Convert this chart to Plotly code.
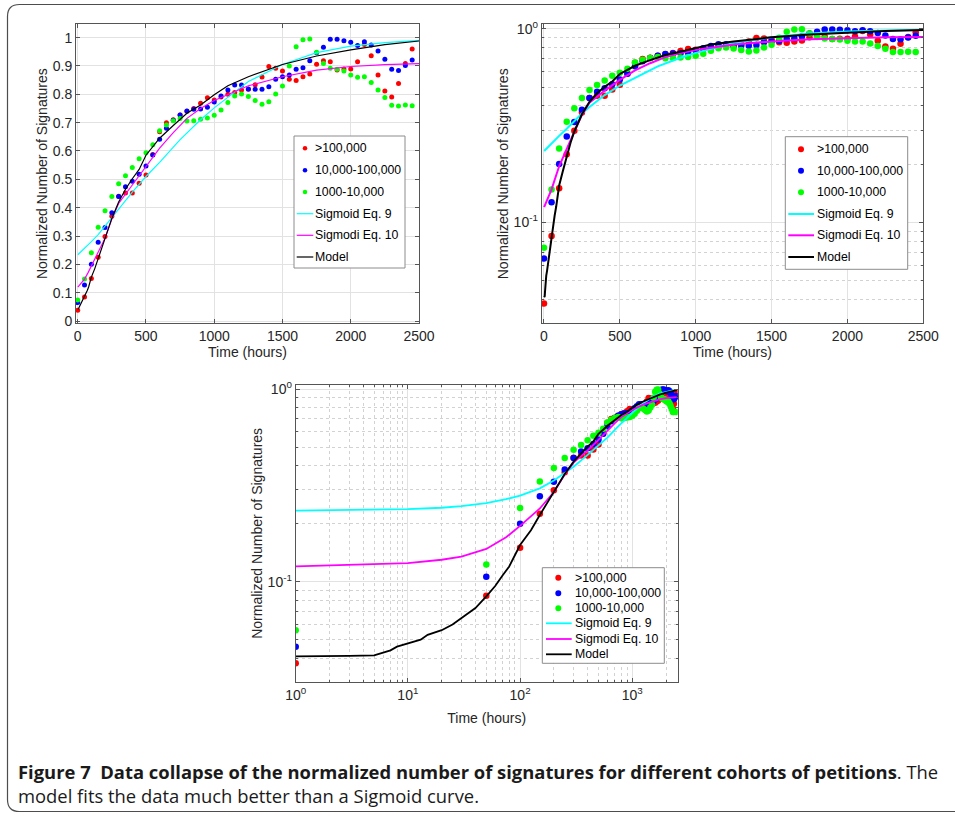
import plotly.graph_objects as go

W, H = 955, 816

# ---------------- data ----------------
hours = list(range(0, 2500, 50))  # 0, 50, ..., 2450

red = [0.038, 0.085, 0.150, 0.225, 0.298, 0.370, 0.440, 0.452, 0.452, 0.486,
       0.515, 0.588, 0.668, 0.700, 0.710, 0.727, 0.740, 0.750, 0.768, 0.788,
       0.780, 0.790, 0.800, 0.806, 0.815, 0.818, 0.834, 0.861, 0.898, 0.892,
       0.882, 0.853, 0.849, 0.862, 0.872, 0.906, 0.918, 0.915, 0.886, 0.889,
       0.889, 0.915, 0.976, 0.936, 0.868, 0.812, 0.790, 0.838, 0.909, 0.960]

blue = [0.065, 0.127, 0.200, 0.278, 0.330, 0.382, 0.439, 0.474, 0.493, 0.518,
        0.547, 0.586, 0.641, 0.680, 0.708, 0.727, 0.741, 0.747, 0.748, 0.754,
        0.773, 0.794, 0.815, 0.833, 0.833, 0.819, 0.818, 0.818, 0.827, 0.853,
        0.862, 0.868, 0.888, 0.894, 0.918, 0.947, 0.966, 0.994, 0.994, 0.989,
        0.984, 0.972, 0.985, 0.974, 0.953, 0.924, 0.888, 0.884, 0.902, 0.921]

green = [0.074, 0.148, 0.241, 0.331, 0.389, 0.439, 0.484, 0.513, 0.542, 0.573,
         0.594, 0.622, 0.671, 0.692, 0.707, 0.715, 0.706, 0.707, 0.712, 0.716,
         0.726, 0.745, 0.771, 0.794, 0.801, 0.792, 0.778, 0.765, 0.774, 0.801,
         0.829, 0.900, 0.968, 0.992, 0.995, 0.948, 0.909, 0.892, 0.888, 0.882,
         0.868, 0.860, 0.862, 0.842, 0.815, 0.789, 0.761, 0.759, 0.762, 0.760]

# first two points as drawn in the log-log panel (t = 1 h and t = 50 h)
red_loglog_start = [0.0377, 0.0846]
blue_loglog_start = [0.046, 0.106]
green_loglog_start = [0.056, 0.123]

model_hours = [1, 2, 3, 5, 7, 8, 10, 13, 15, 20, 25, 30, 35, 40, 50, 60, 70, 80,
               100, 125, 150, 175, 200, 250, 300, 350, 400, 450, 500, 550, 600,
               700, 800, 900, 1000, 1100, 1250, 1500, 1750, 2000, 2250, 2500]
model = [0.041, 0.041, 0.0412, 0.0415, 0.044, 0.046, 0.048, 0.050, 0.053, 0.056,
         0.060, 0.065, 0.069, 0.073, 0.084, 0.095, 0.108, 0.120, 0.155, 0.185,
         0.222, 0.258, 0.295, 0.362, 0.420, 0.465, 0.502, 0.535, 0.585, 0.615,
         0.645, 0.690, 0.733, 0.762, 0.798, 0.830, 0.862, 0.905, 0.935, 0.957,
         0.975, 0.988]

sig9_hours = [1, 10, 20, 30, 50, 75, 100, 150, 200, 250, 300, 400, 500, 600,
              750, 900, 1000, 1250, 1500, 1750, 2000, 2250, 2500]
sig9 = [0.234, 0.238, 0.242, 0.247, 0.256, 0.268, 0.280, 0.305, 0.335, 0.365,
        0.395, 0.455, 0.510, 0.560, 0.640, 0.710, 0.752, 0.845, 0.905, 0.947,
        0.970, 0.982, 0.990]

sig10_hours = [1, 10, 20, 30, 50, 75, 100, 150, 200, 250, 300, 400, 500, 600,
               700, 800, 900, 1000, 1250, 1500, 1750, 2000, 2250, 2500]
sig10 = [0.120, 0.125, 0.130, 0.135, 0.148, 0.170, 0.195, 0.240, 0.292, 0.360,
         0.415, 0.480, 0.545, 0.610, 0.665, 0.715, 0.750, 0.778, 0.830, 0.862,
         0.885, 0.898, 0.905, 0.908]

series_names = [">100,000", "10,000-100,000", "1000-10,000"]
curve_names = ["Sigmoid Eq. 9", "Sigmodi Eq. 10", "Model"]

lin_xticks = [0, 500, 1000, 1500, 2000, 2500]
lin_yticks = [0, 0.1, 0.2, 0.3, 0.4, 0.5, 0.6, 0.7, 0.8, 0.9, 1]
log_yticks = [0.1, 1]
log_yticktext = ["10<sup>-1</sup>", "10<sup>0</sup>"]
log_xticks = [1, 10, 100, 1000]
log_xticktext = ["10<sup>0</sup>", "10<sup>1</sup>", "10<sup>2</sup>", "10<sup>3</sup>"]

caption_bold = "Figure 7  Data collapse of the normalized number of signatures for different cohorts of petitions"
caption_rest = ". The"
caption_line2 = "model fits the data much better than a Sigmoid curve."

# ---------------- helpers ----------------
def px(x):
    return x / W

def py(y):
    return 1 - y / H

hours_ll = [max(h, 1) for h in hours]
red_ll = red_loglog_start + red[2:]
blue_ll = blue_loglog_start + blue[2:]
green_ll = green_loglog_start + green[2:]

dot_colors = ["#ff0000", "#0000ff", "#00ff00"]
line_colors = ["#00ffff", "#ff00ff", "#000000"]

fig = go.Figure()

panels = [
    ("", hours, [red, blue, green], 5, 1.2),
    ("2", hours, [red, blue, green], 6.5, 2.0),
    ("3", hours_ll, [red_ll, blue_ll, green_ll], 6.5, 1.8),
]

for suf, xs, pts, msize, lw in panels:
    for name, col, vals in zip(series_names, dot_colors, pts):
        fig.add_trace(go.Scatter(
            x=xs, y=vals, mode="markers", name=name, showlegend=False,
            marker=dict(color=col, size=msize, line=dict(width=0)),
            xaxis="x" + suf, yaxis="y" + suf))
    for name, col, cx, cy in zip(curve_names, line_colors,
                                 [sig9_hours, sig10_hours, model_hours],
                                 [sig9, sig10, model]):
        fig.add_trace(go.Scatter(
            x=cx, y=cy, mode="lines", name=name, showlegend=False,
            line=dict(color=col, width=lw),
            xaxis="x" + suf, yaxis="y" + suf))

TXT = "#262626"
FRAME = "#555555"
GRID = "#e2e2e2"
MGRID = "#d2d2d2"
FONT = "Liberation Sans, Arial, sans-serif"

common = dict(showline=True, linecolor=FRAME, linewidth=1, mirror="ticks",
              ticks="inside", ticklen=4, tickcolor=FRAME, zeroline=False,
              tickfont=dict(family=FONT, size=14, color=TXT),
              showgrid=True, gridcolor=GRID, gridwidth=1, automargin=False)

def title(t, standoff):
    return dict(text=t, font=dict(family=FONT, size=14, color=TXT), standoff=standoff)

log_minor_y = [0.03, 0.04, 0.05, 0.06, 0.07, 0.08, 0.09,
               0.2, 0.3, 0.4, 0.5, 0.6, 0.7, 0.8, 0.9]
log_minor_x = [2, 3, 4, 5, 6, 7, 8, 9, 20, 30, 40, 50, 60, 70, 80, 90,
               200, 300, 400, 500, 600, 700, 800, 900, 2000]
minor_style = dict(showgrid=True, griddash="dot", gridcolor=MGRID, gridwidth=1,
                   ticks="inside", ticklen=2, tickcolor=FRAME)

fig.update_layout(
    width=W, height=H, autosize=False,
    margin=dict(l=0, r=0, t=0, b=0, pad=0, autoexpand=False),
    paper_bgcolor="white", plot_bgcolor="white",
    font=dict(family=FONT, color=TXT),
    showlegend=False,
    xaxis=dict(domain=[px(76), px(419)], range=[-12.5, 2500], tickmode="array",
               tickvals=lin_xticks, title=title("Time (hours)", 3), anchor="y", **common),
    yaxis=dict(domain=[py(323.3), py(24)], range=[-0.008, 1.048], tickmode="array",
               tickvals=lin_yticks, ticktext=[f"{v:g}" for v in lin_yticks],
               title=title("Normalized Number of Signatures", 1), anchor="x", **common),
    xaxis2=dict(domain=[px(541.7), px(923.3)], range=[-15, 2500], tickmode="array",
                tickvals=lin_xticks, title=title("Time (hours)", 3), anchor="y2", **common),
    yaxis2=dict(domain=[py(323.3), py(24.3)], type="log", range=[-1.522, 0.024],
                tickmode="array", tickvals=log_yticks, ticktext=log_yticktext,
                minor=dict(tickvals=log_minor_y, **minor_style),
                title=title("Normalized Number of Signatures", 1), anchor="x2", **common),
    xaxis3=dict(domain=[px(295.7), px(677.7)], type="log", range=[0, 3.405],
                tickmode="array", tickvals=log_xticks, ticktext=log_xticktext,
                minor=dict(tickvals=log_minor_x, **minor_style),
                title=title("Time (hours)", 11), anchor="y3", **common),
    yaxis3=dict(domain=[py(681.7), py(385)], type="log", range=[-1.519, 0.021],
                tickmode="array", tickvals=log_yticks, ticktext=log_yticktext,
                minor=dict(tickvals=log_minor_y, **minor_style),
                title=title("Normalized Number of Signatures", 1), anchor="x3", **common),
)

# ---------------- legends (MATLAB style boxes) ----------------
LEGFONT = dict(family=FONT, size=12.3, color="#000000")

def draw_legend(box, dot_x, line_x, text_x, rows, dot_d, lw):
    bx0, by0, bx1, by1 = box
    fig.add_shape(type="rect", xref="paper", yref="paper",
                  x0=px(bx0), y0=py(by1), x1=px(bx1), y1=py(by0),
                  line=dict(color="#8c8c8c", width=1), fillcolor="white")
    names = series_names + curve_names
    for i, name in enumerate(names):
        yy = py(rows[i])
        if i < 3:
            r = dot_d / 2
            fig.add_shape(type="circle", xref="paper", yref="paper",
                          xsizemode="pixel", ysizemode="pixel",
                          xanchor=px(dot_x), yanchor=yy,
                          x0=-r, x1=r, y0=-r, y1=r,
                          fillcolor=dot_colors[i], line=dict(width=0))
        else:
            fig.add_shape(type="line", xref="paper", yref="paper",
                          x0=px(line_x[0]), x1=px(line_x[1]), y0=yy, y1=yy,
                          line=dict(color=line_colors[i - 3], width=lw))
        fig.add_annotation(x=px(text_x), y=yy, xref="paper", yref="paper",
                           xanchor="left", yanchor="middle", showarrow=False,
                           borderpad=0, text=name, font=LEGFONT)

draw_legend((294, 136, 405, 268), 305, (296.7, 313.3), 314,
            [148.3, 170.3, 192.0, 213.7, 235.3, 257.0], 4.5, 1.2)
draw_legend((785.3, 136.7, 907.7, 269.3), 801, (788.3, 814), 816,
            [149.3, 170.7, 192.3, 214.0, 235.3, 257.0], 6, 2.0)
draw_legend((542.3, 567.7, 664.3, 663.3), 558.3, (546, 571.7), 573.5,
            [577.7, 593.3, 608.3, 623.3, 639.0, 654.3], 6, 1.8)

# outer rounded frame
x0, y0, x1, y1, r = 7.5, 4.5, 962, 811.5, 12
path = (f"M {px(x0)},{py(y0 + r)} Q {px(x0)},{py(y0)} {px(x0 + r)},{py(y0)} "
        f"L {px(x1)},{py(y0)} L {px(x1)},{py(y1)} L {px(x0 + r)},{py(y1)} "
        f"Q {px(x0)},{py(y1)} {px(x0)},{py(y1 - r)} Z")
fig.add_shape(type="path", path=path, xref="paper", yref="paper",
              line=dict(color="#4d4d4d", width=1.2), fillcolor="rgba(0,0,0,0)")

CAPFONT = "Open Sans, sans-serif"
fig.add_annotation(x=px(17), y=py(783), xref="paper", yref="paper",
                   xanchor="left", yanchor="middle", align="left", showarrow=False,
                   borderpad=0,
                   text=f"<b>{caption_bold}</b>{caption_rest}<br>{caption_line2}",
                   font=dict(family=CAPFONT, size=18.4, color="#1a1a1a"))

fig.write_html("out.html", post_script="document.body.style.margin='0';")
